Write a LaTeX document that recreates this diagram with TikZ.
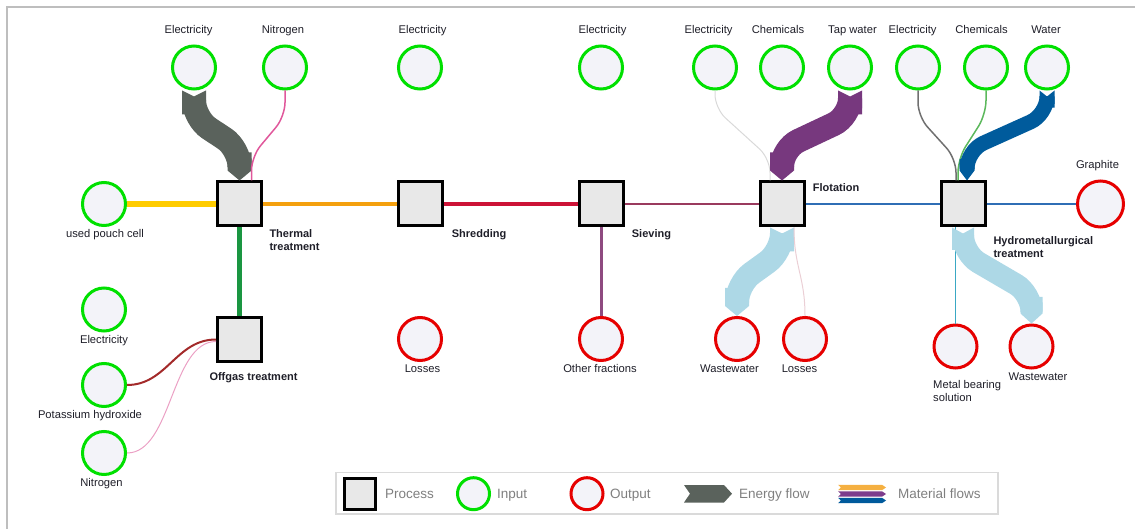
\documentclass[tikz,border=0pt]{standalone}
\usepackage{fontspec}
\setmainfont{Liberation Sans}
\usetikzlibrary{arrows.meta}

\definecolor{boxgray}{HTML}{E8E8E8}
\definecolor{circfill}{HTML}{F3F3F9}
\definecolor{ingreen}{HTML}{00E000}
\definecolor{outred}{HTML}{E60000}
\definecolor{lbltext}{HTML}{1E1E28}
\definecolor{leggray}{HTML}{7F7F7F}
\definecolor{framegray}{HTML}{BEBEBE}
\definecolor{legframe}{HTML}{DADADA}
\definecolor{energygray}{HTML}{5A625C}
\definecolor{cellyellow}{HTML}{FFCC00}
\definecolor{thorange}{HTML}{F4A00E}
\definecolor{shcrimson}{HTML}{CC1236}
\definecolor{oggreen}{HTML}{1A9641}
\definecolor{siplum}{HTML}{8E4A80}
\definecolor{simaroon}{HTML}{9A3A5E}
\definecolor{flblue}{HTML}{2F6EB5}
\definecolor{twpurple}{HTML}{77387E}
\definecolor{wadarkblue}{HTML}{005B9C}
\definecolor{wwlight}{HTML}{ADD8E6}
\definecolor{nipink}{HTML}{E0579B}
\definecolor{kohred}{HTML}{A32A2A}
\definecolor{nilight}{HTML}{EBA0C4}
\definecolor{elgray}{HTML}{707070}
\definecolor{chgreen}{HTML}{5CB85C}
\definecolor{ellight}{HTML}{D9D9D9}
\definecolor{lospink}{HTML}{EBCFD5}
\definecolor{metcyan}{HTML}{3AA8C4}
\definecolor{matorange}{HTML}{F5B041}
\definecolor{matpurple}{HTML}{7D3C8C}
\definecolor{matblue}{HTML}{005A9C}

\begin{document}
\begin{tikzpicture}[x=1pt,y=-1pt,
	proc/.style={rectangle,draw=black,line width=3pt,fill=boxgray,minimum size=44pt,inner sep=0pt},
	inp/.style={circle,draw=ingreen,line width=3pt,fill=circfill,minimum size=43pt,inner sep=0pt},
	outp/.style={circle,draw=outred,line width=3pt,fill=circfill,minimum size=43pt,inner sep=0pt},
	lbl/.style={font=\fontsize{11.2}{13}\selectfont,text=lbltext,inner sep=0pt,anchor=base},
	plbl/.style={font=\fontsize{11}{12.5}\selectfont\bfseries,text=lbltext,inner sep=0pt,anchor=base west,align=left},
	leg/.style={font=\fontsize{13.5}{15}\selectfont,text=leggray,inner sep=0pt,anchor=base west},
	band/.style={line width=#1,rounded corners=18pt,{Triangle Cap[reversed,length=6pt]}-{Triangle Cap[length=10pt]}}]

	\useasboundingbox (0,0) rectangle (1135,529);
	\draw[framegray,line width=2pt] (6.5,529) -- (6.5,7) -- (1135,7);

	\draw[] (239.5,204) node[proc] (thermal) {};
	\draw[] (239.5,339.5) node[proc] (offgas) {};
	\draw[] (420,204) node[proc] (shred) {};
	\draw[] (601,204) node[proc] (sieve) {};
	\draw[] (782,204) node[proc] (flot) {};
	\draw[] (963,204) node[proc] (hydro) {};

	\draw[] (194,67.5) node[inp] (elTh) {};
	\draw[] (285,67.5) node[inp] (niTh) {};
	\draw[] (420,67.5) node[inp] (elSh) {};
	\draw[] (601,67.5) node[inp] (elSi) {};
	\draw[] (715,67.5) node[inp] (elFl) {};
	\draw[] (782,67.5) node[inp] (chFl) {};
	\draw[] (850,67.5) node[inp] (twFl) {};
	\draw[] (918,67.5) node[inp] (elHy) {};
	\draw[] (986,67.5) node[inp] (chHy) {};
	\draw[] (1047,67.5) node[inp] (waHy) {};
	\draw[] (104,204) node[inp] (cell) {};
	\draw[] (104,309.5) node[inp] (elOg) {};
	\draw[] (104,385) node[inp] (kohOg) {};
	\draw[] (104,453) node[inp] (niOg) {};

	\draw[] (420,339) node[outp] (losSh) {};
	\draw[] (601,339) node[outp] (othSi) {};
	\draw[] (737,339) node[outp] (wwFl) {};
	\draw[] (805,339) node[outp] (losFl) {};
	\draw[] (955.5,346.5) node[outp] (metHy) {};
	\draw[] (1031.5,346.5) node[outp] (wwHy) {};
	\draw[] (1100.5,204) node[outp,minimum size=46pt] (graph) {};

	\draw[] (188.5,34) node[lbl] (elThT) {Electricity};
	\draw[] (283,34) node[lbl] (niThT) {Nitrogen};
	\draw[] (422.5,34) node[lbl] (elShT) {Electricity};
	\draw[] (602.5,34) node[lbl] (elSiT) {Electricity};
	\draw[] (708.5,34) node[lbl] (elFlT) {Electricity};
	\draw[] (778,34) node[lbl] (chFlT) {Chemicals};
	\draw[] (852.5,34) node[lbl] (twFlT) {Tap water};
	\draw[] (912.5,34) node[lbl] (elHyT) {Electricity};
	\draw[] (981.5,34) node[lbl] (chHyT) {Chemicals};
	\draw[] (1046,34) node[lbl] (waHyT) {Water};
	\draw[] (105,237.5) node[lbl] (cellT) {used pouch cell};
	\draw[] (104,343) node[lbl] (elOgT) {Electricity};
	\draw[] (90,418) node[lbl] (kohOgT) {Potassium hydroxide};
	\draw[] (101.5,486) node[lbl] (niOgT) {Nitrogen};
	\draw[] (422.5,372.5) node[lbl] (losShT) {Losses};
	\draw[] (600,372.5) node[lbl] (othSiT) {Other fractions};
	\draw[] (729.5,372.5) node[lbl] (wwFlT) {Wastewater};
	\draw[] (799.5,372.5) node[lbl] (losFlT) {Losses};
	\draw[] (933,401) node[lbl,anchor=base west,align=left] (metHyT) {Metal bearing\\solution};
	\draw[] (1038,380.5) node[lbl] (wwHyT) {Wastewater};
	\draw[] (1097.5,168.5) node[lbl] (graphT) {Graphite};

	\draw[] (269.3,250.5) node[plbl] (thermalT) {Thermal\\treatment};
	\draw[] (209.3,380.7) node[plbl] (offgasT) {Offgas treatment};
	\draw[] (451.7,237.5) node[plbl] (shredT) {Shredding};
	\draw[] (631.7,237.5) node[plbl] (sieveT) {Sieving};
	\draw[] (812.7,191.7) node[plbl] (flotT) {Flotation};
	\draw[] (993.3,257.5) node[plbl] (hydroT) {Hydrometallurgical\\treatment};

	\draw[line width=6pt,cellyellow] (cell) -- (thermal);
	\draw[line width=4pt,thorange] (thermal) -- (shred);
	\draw[line width=4.5pt,shcrimson] (shred) -- (sieve);
	\draw[line width=1.5pt,simaroon] (sieve) -- (flot);
	\draw[line width=1.5pt,flblue] (flot) -- (hydro);
	\draw[line width=1.2pt,flblue] (hydro) -- (graph);
	\draw[line width=5pt,oggreen] (thermal) -- (offgas);
	\draw[line width=3pt,siplum] (sieve) -- (othSi);

	\draw[band=24pt,energygray] (elTh.south) -- ++(0,28) -- ([yshift=32pt]thermal.north) -- (thermal.north);
	\draw[line width=1.5pt,nipink,rounded corners=14pt] (niTh.south) -- ++(0,26) -- ([xshift=12pt,yshift=24pt]thermal.north) -- ([xshift=12pt]thermal.north);

	\draw[line width=1pt,ellight,rounded corners=14pt] (elFl.south) -- ++(0,18) -- ([xshift=-12pt,yshift=22pt]flot.north) -- ([xshift=-12pt]flot.north);
	\draw[band=24pt,twpurple] (twFl.south) -- ++(0,26) -- ([yshift=32pt]flot.north) -- (flot.north);

	\draw[line width=1.5pt,elgray,rounded corners=14pt] (elHy.south) -- ++(0,26) -- ([xshift=-7pt,yshift=22pt]hydro.north) -- ([xshift=-7pt]hydro.north);
	\draw[line width=1.5pt,chgreen,rounded corners=14pt] (chHy.south) -- ++(0,24) -- ([xshift=-5pt,yshift=22pt]hydro.north) -- ([xshift=-5pt]hydro.north);
	\draw[band=15pt,wadarkblue] (waHy.south) -- ++(0,24) -- ([xshift=4pt,yshift=30pt]hydro.north) -- ([xshift=4pt]hydro.north);

	\draw[band=24pt,wwlight] (flot.south) -- ++(0,24) -- ([yshift=32pt]wwFl.north) -- (wwFl.north);
	\draw[line width=1pt,lospink] ([xshift=12pt]flot.south) .. controls +(0,40) and +(0,-40) .. (losFl.north);

	\draw[line width=1pt,metcyan] ([xshift=-7.5pt]hydro.south) -- (metHy);
	\draw[band=22pt,wwlight] (hydro.south) -- ++(0,26) -- ([yshift=30pt]wwHy.north) -- (wwHy.north);

	\draw[line width=2pt,kohred] (kohOg.east) .. controls +(40,0) and +(-40,0) .. (offgas.west);
	\draw[line width=1pt,nilight] (niOg.east) .. controls +(45,0) and +(-45,0) .. ([yshift=-2pt]offgas.west);

	\draw[legframe,line width=1.5pt] (336,472.5) rectangle (998,514);
	\draw[] (360,493.7) node[proc,minimum size=31pt] (lgProc) {};
	\draw[] (385,498.5) node[leg] (lgProcT) {Process};
	\draw[] (473.5,493.7) node[inp,minimum size=32pt] (lgIn) {};
	\draw[] (497,498.5) node[leg] (lgInT) {Input};
	\draw[] (587,493.7) node[outp,minimum size=32pt] (lgOut) {};
	\draw[] (610,498.5) node[leg] (lgOutT) {Output};
	\fill[energygray] (684,485) -- (724,485) -- (732,493.7) -- (724,502.5) -- (684,502.5) -- (690,493.7) -- cycle;
	\draw[] (739,498.5) node[leg] (lgEnT) {Energy flow};
	\foreach \c/\y in {matorange/487.5, matpurple/494, matblue/500.5}
		\fill[\c] (838,\y-2.7) -- (882,\y-2.7) -- (886,\y) -- (882,\y+2.7) -- (838,\y+2.7) -- (841,\y) -- cycle;
	\draw[] (898,498.5) node[leg] (lgMatT) {Material flows};

	\end{tikzpicture}
\end{document}
